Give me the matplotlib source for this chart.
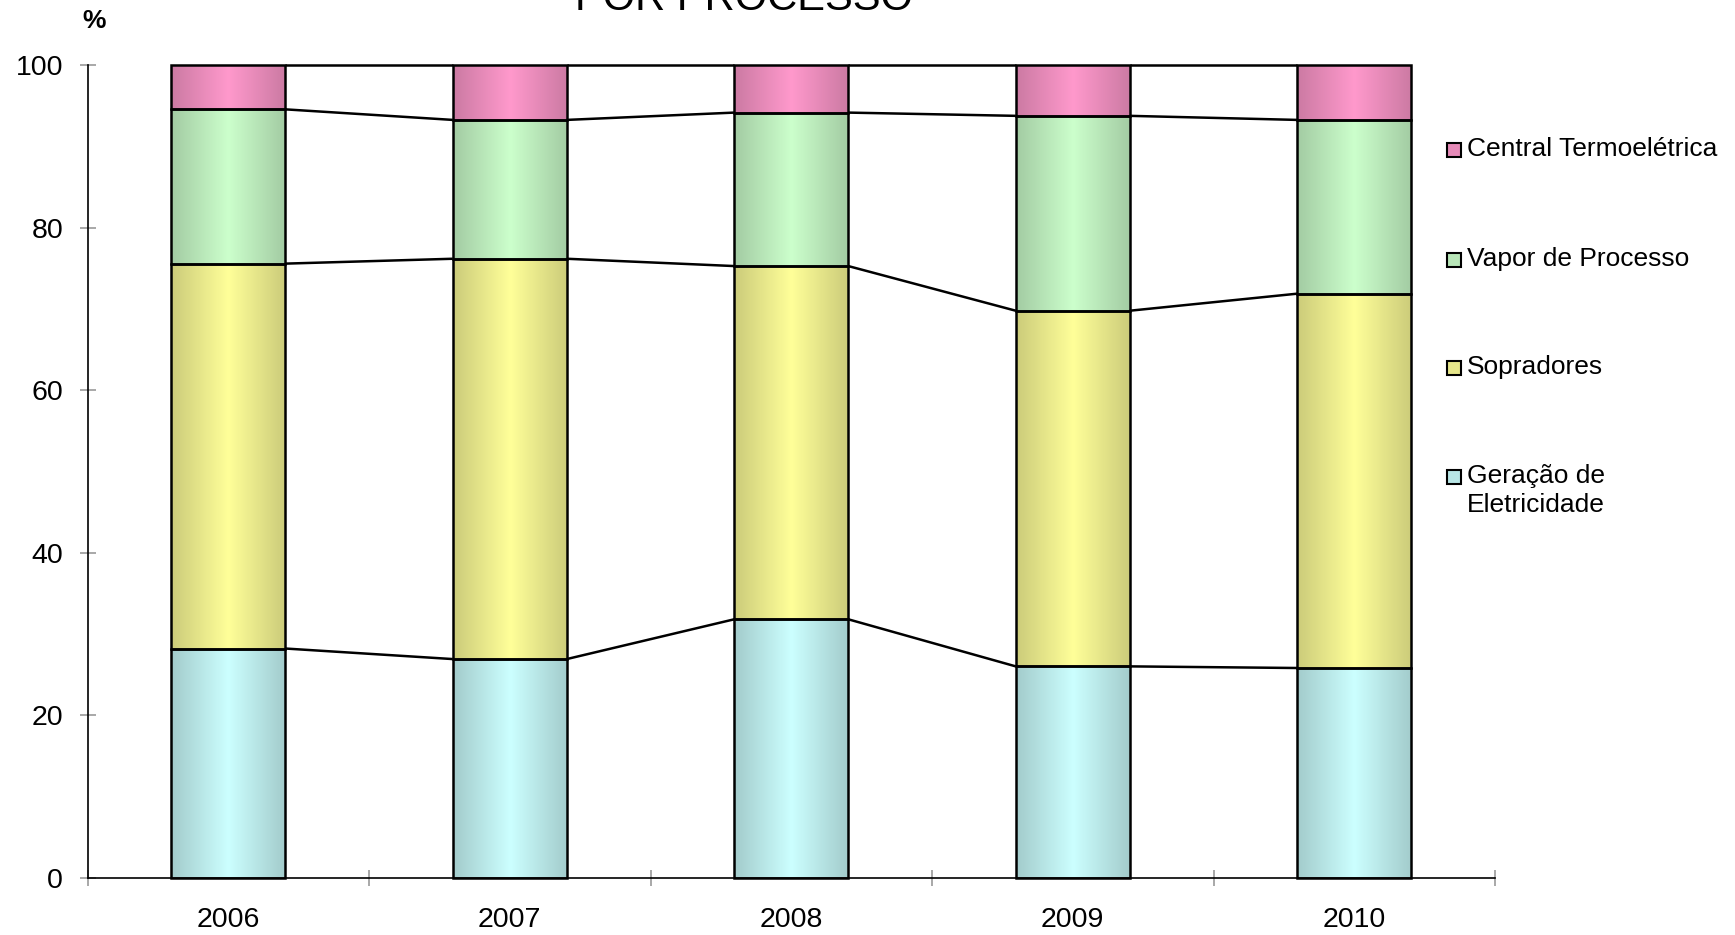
import numpy as np
import matplotlib
matplotlib.use("Agg")
import matplotlib.pyplot as plt
from matplotlib.colors import to_rgb
from matplotlib.patches import Rectangle

plt.rcParams['font.family'] = ['Liberation Sans', 'DejaVu Sans']

years = ["2006", "2007", "2008", "2009", "2010"]
series = ["Geração de\nEletricidade", "Sopradores", "Vapor de Processo", "Central Termoelétrica"]
geracao = [28.2, 26.9, 31.8, 26.0, 25.8]
sopradores = [47.4, 49.3, 43.5, 43.8, 46.1]
vapor = [19.0, 17.1, 18.9, 24.0, 21.4]
central = [5.4, 6.7, 5.8, 6.2, 6.7]
values = [geracao, sopradores, vapor, central]
colors = ["#CCFFFF", "#FFFF99", "#CCFFCC", "#FF99CC"]
yticks = [0, 20, 40, 60, 80, 100]

W, H = 1735, 935
fig = plt.figure(figsize=(W / 100, H / 100), dpi=100)
ax = fig.add_axes([87.5 / W, 57.5 / H, (1495 - 87.5) / W, (877.5 - 65.5) / H])

x = np.arange(len(years))
width = 0.405
bottom = np.zeros(len(years))


def gradient(color, n=64):
    c = np.array(to_rgb(color))
    t = np.abs(np.linspace(-1, 1, n))
    f = 1.0 - 0.2 * t
    return (c[None, :] * f[:, None])[None, :, :]


tops = []
for vals, col in zip(values, colors):
    bars = ax.bar(x, vals, width, bottom=bottom, facecolor="none",
                  edgecolor="black", linewidth=1.8, zorder=3, clip_on=False)
    img = gradient(col)
    for b in bars:
        x0, y0 = b.get_x(), b.get_y()
        ax.imshow(img, extent=[x0, x0 + b.get_width(), y0, y0 + b.get_height()],
                  aspect="auto", interpolation="bilinear", zorder=2)
    bottom = np.round(bottom + np.array(vals), 6)
    tops.append(bottom.copy())

# series lines joining the tops of each stacked segment
for t in tops:
    for i in range(len(years) - 1):
        ax.plot([x[i] + width / 2, x[i + 1] - width / 2], [t[i], t[i + 1]],
                color="black", linewidth=1.8, zorder=4, solid_capstyle="butt",
                clip_on=False)

ax.set_xlim(-0.5, len(years) - 0.5)
ax.set_ylim(0, 100)
ax.set_yticks(yticks)
ax.set_yticklabels([str(v) for v in yticks])
ax.set_xticks(x)
ax.set_xticklabels(years)
ax.set_xticks(np.arange(-0.5, len(years)), minor=True)
ax.tick_params(axis="x", which="major", length=0, pad=21, labelsize=20.5)
ax.tick_params(axis="x", which="minor", direction="inout", length=11,
               color="#999999", width=1.2)
ax.tick_params(axis="y", direction="inout", length=11, color="#999999",
               width=1.2, pad=12, labelsize=20.5)
for s in ["top", "right"]:
    ax.spines[s].set_visible(False)
for s in ["left", "bottom"]:
    ax.spines[s].set_linewidth(1.2)
    ax.spines[s].set_color("black")

fig.text(94 / W, 1 - 21 / H, "%", fontsize=19, fontweight="bold",
         ha="center", va="center")
fig.text(744 / W, 1 - 10 / H, "POR PROCESSO", fontsize=30,
         ha="center", va="baseline")

# legend, top entry first
leg_y = [150, 260, 368, 477]
sq = 14
for name, col, yy in zip(series[::-1], colors[::-1], leg_y):
    c = np.array(to_rgb(col)) * 0.9
    fig.patches.append(Rectangle(((1447) / W, 1 - (yy + sq / 2) / H), sq / W, sq / H,
                                 transform=fig.transFigure, facecolor=c,
                                 edgecolor="black", linewidth=1.5))
    fig.text(1467 / W, 1 - (yy - 13) / H, name, fontsize=19, ha="left",
             va="top", linespacing=1.25)

fig.savefig("out.png", dpi=100)
